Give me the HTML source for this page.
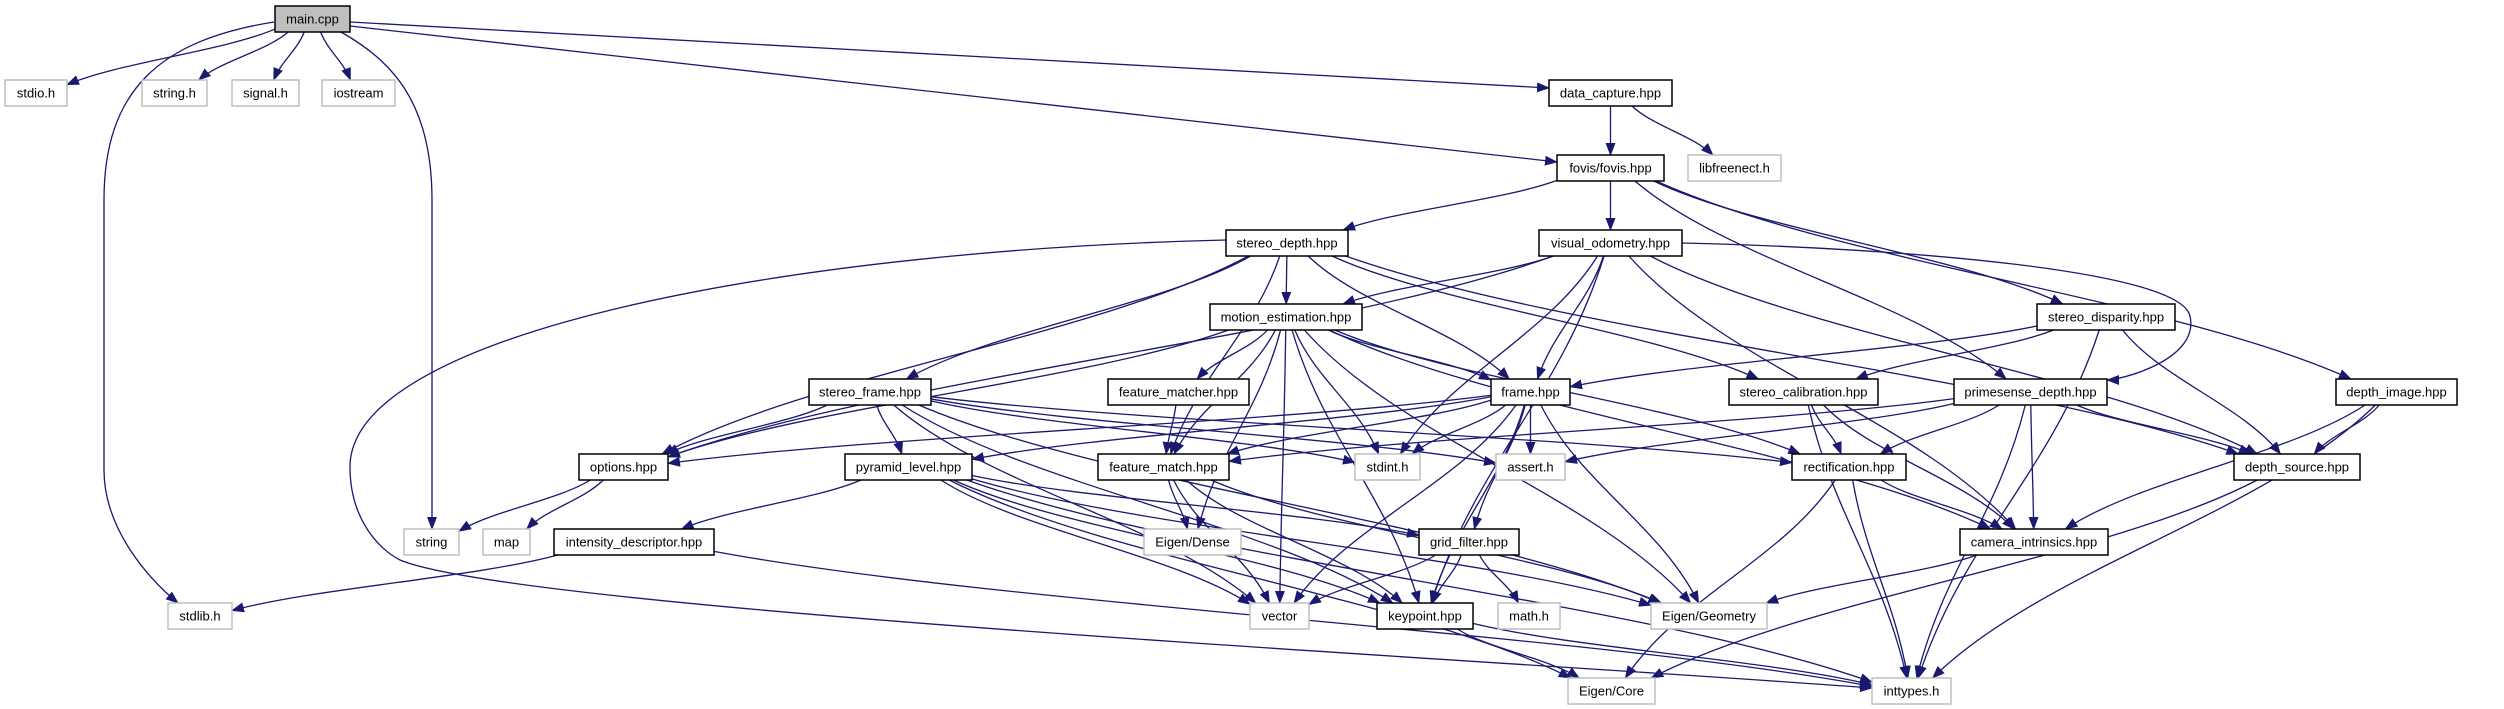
<!DOCTYPE html>
<html><head><meta charset="utf-8"><style>
html,body{margin:0;padding:0;background:#fff;}
svg{display:block;}
text{font-family:"Liberation Sans",sans-serif;font-size:13px;fill:#000;}
</style></head><body>
<svg id="g" width="2504" height="709" viewBox="0 0 2504 709" xmlns="http://www.w3.org/2000/svg">
<defs><marker id="a" markerUnits="userSpaceOnUse" markerWidth="13" markerHeight="10" refX="12" refY="5" orient="auto"><path d="M0,0 L13,5 L0,10 z" fill="#191970"/></marker></defs>
<g id="edges" fill="none" stroke="#191970" stroke-width="1.3"></g>
<g id="nodes">
<rect x="275" y="6" width="75" height="26" fill="#bfbfbf" stroke="#000" stroke-width="1.5"/><text x="312.5" y="23.5" text-anchor="middle">main.cpp</text>
<rect x="5" y="80" width="62" height="26" fill="#fff" stroke="#bfbfbf" stroke-width="1.5"/><text x="36" y="97.5" text-anchor="middle">stdio.h</text>
<rect x="142" y="80" width="65" height="26" fill="#fff" stroke="#bfbfbf" stroke-width="1.5"/><text x="174.5" y="97.5" text-anchor="middle">string.h</text>
<rect x="232" y="80" width="67" height="26" fill="#fff" stroke="#bfbfbf" stroke-width="1.5"/><text x="265.5" y="97.5" text-anchor="middle">signal.h</text>
<rect x="322" y="80" width="73" height="26" fill="#fff" stroke="#bfbfbf" stroke-width="1.5"/><text x="358.5" y="97.5" text-anchor="middle">iostream</text>
<rect x="1549" y="80" width="123" height="26" fill="#fff" stroke="#000" stroke-width="1.5"/><text x="1610.5" y="97.5" text-anchor="middle">data_capture.hpp</text>
<rect x="1557" y="155" width="107" height="26" fill="#fff" stroke="#000" stroke-width="1.5"/><text x="1610.5" y="172.5" text-anchor="middle">fovis/fovis.hpp</text>
<rect x="1688" y="155" width="93" height="26" fill="#fff" stroke="#bfbfbf" stroke-width="1.5"/><text x="1734.5" y="172.5" text-anchor="middle">libfreenect.h</text>
<rect x="1226" y="230" width="122" height="26" fill="#fff" stroke="#000" stroke-width="1.5"/><text x="1287" y="247.5" text-anchor="middle">stereo_depth.hpp</text>
<rect x="1539" y="230" width="143" height="26" fill="#fff" stroke="#000" stroke-width="1.5"/><text x="1610.5" y="247.5" text-anchor="middle">visual_odometry.hpp</text>
<rect x="1210" y="304" width="152" height="26" fill="#fff" stroke="#000" stroke-width="1.5"/><text x="1286" y="321.5" text-anchor="middle">motion_estimation.hpp</text>
<rect x="2037" y="304" width="138" height="26" fill="#fff" stroke="#000" stroke-width="1.5"/><text x="2106" y="321.5" text-anchor="middle">stereo_disparity.hpp</text>
<rect x="809" y="379" width="122" height="26" fill="#fff" stroke="#000" stroke-width="1.5"/><text x="870" y="396.5" text-anchor="middle">stereo_frame.hpp</text>
<rect x="1108" y="379" width="141" height="26" fill="#fff" stroke="#000" stroke-width="1.5"/><text x="1178.5" y="396.5" text-anchor="middle">feature_matcher.hpp</text>
<rect x="1491" y="379" width="79" height="26" fill="#fff" stroke="#000" stroke-width="1.5"/><text x="1530.5" y="396.5" text-anchor="middle">frame.hpp</text>
<rect x="1729" y="379" width="149" height="26" fill="#fff" stroke="#000" stroke-width="1.5"/><text x="1803.5" y="396.5" text-anchor="middle">stereo_calibration.hpp</text>
<rect x="1954" y="379" width="153" height="26" fill="#fff" stroke="#000" stroke-width="1.5"/><text x="2030.5" y="396.5" text-anchor="middle">primesense_depth.hpp</text>
<rect x="2336" y="379" width="121" height="26" fill="#fff" stroke="#000" stroke-width="1.5"/><text x="2396.5" y="396.5" text-anchor="middle">depth_image.hpp</text>
<rect x="579" y="454" width="89" height="26" fill="#fff" stroke="#000" stroke-width="1.5"/><text x="623.5" y="471.5" text-anchor="middle">options.hpp</text>
<rect x="845" y="454" width="127" height="26" fill="#fff" stroke="#000" stroke-width="1.5"/><text x="908.5" y="471.5" text-anchor="middle">pyramid_level.hpp</text>
<rect x="1098" y="454" width="131" height="26" fill="#fff" stroke="#000" stroke-width="1.5"/><text x="1163.5" y="471.5" text-anchor="middle">feature_match.hpp</text>
<rect x="1355" y="454" width="65" height="26" fill="#fff" stroke="#bfbfbf" stroke-width="1.5"/><text x="1387.5" y="471.5" text-anchor="middle">stdint.h</text>
<rect x="1496" y="454" width="69" height="26" fill="#fff" stroke="#bfbfbf" stroke-width="1.5"/><text x="1530.5" y="471.5" text-anchor="middle">assert.h</text>
<rect x="1792" y="454" width="114" height="26" fill="#fff" stroke="#000" stroke-width="1.5"/><text x="1849" y="471.5" text-anchor="middle">rectification.hpp</text>
<rect x="2234" y="454" width="126" height="26" fill="#fff" stroke="#000" stroke-width="1.5"/><text x="2297" y="471.5" text-anchor="middle">depth_source.hpp</text>
<rect x="404" y="529" width="55" height="26" fill="#fff" stroke="#bfbfbf" stroke-width="1.5"/><text x="431.5" y="546.5" text-anchor="middle">string</text>
<rect x="483" y="529" width="47" height="26" fill="#fff" stroke="#bfbfbf" stroke-width="1.5"/><text x="506.5" y="546.5" text-anchor="middle">map</text>
<rect x="554" y="529" width="160" height="26" fill="#fff" stroke="#000" stroke-width="1.5"/><text x="634" y="546.5" text-anchor="middle">intensity_descriptor.hpp</text>
<rect x="1144" y="529" width="97" height="26" fill="#fff" stroke="#bfbfbf" stroke-width="1.5"/><text x="1192.5" y="546.5" text-anchor="middle">Eigen/Dense</text>
<rect x="1419" y="529" width="100" height="26" fill="#fff" stroke="#000" stroke-width="1.5"/><text x="1469" y="546.5" text-anchor="middle">grid_filter.hpp</text>
<rect x="1960" y="529" width="148" height="26" fill="#fff" stroke="#000" stroke-width="1.5"/><text x="2034" y="546.5" text-anchor="middle">camera_intrinsics.hpp</text>
<rect x="168" y="603" width="64" height="26" fill="#fff" stroke="#bfbfbf" stroke-width="1.5"/><text x="200" y="620.5" text-anchor="middle">stdlib.h</text>
<rect x="1250" y="603" width="59" height="26" fill="#fff" stroke="#bfbfbf" stroke-width="1.5"/><text x="1279.5" y="620.5" text-anchor="middle">vector</text>
<rect x="1377" y="603" width="96" height="26" fill="#fff" stroke="#000" stroke-width="1.5"/><text x="1425" y="620.5" text-anchor="middle">keypoint.hpp</text>
<rect x="1498" y="603" width="62" height="26" fill="#fff" stroke="#bfbfbf" stroke-width="1.5"/><text x="1529" y="620.5" text-anchor="middle">math.h</text>
<rect x="1651" y="603" width="116" height="26" fill="#fff" stroke="#bfbfbf" stroke-width="1.5"/><text x="1709" y="620.5" text-anchor="middle">Eigen/Geometry</text>
<rect x="1568" y="678" width="87" height="26" fill="#fff" stroke="#bfbfbf" stroke-width="1.5"/><text x="1611.5" y="695.5" text-anchor="middle">Eigen/Core</text>
<rect x="1872" y="678" width="79" height="26" fill="#fff" stroke="#bfbfbf" stroke-width="1.5"/><text x="1911.5" y="695.5" text-anchor="middle">inttypes.h</text>
</g>
</svg>
<script>
var N={main:[275,350,6],stdio:[5,67,80],strh:[142,207,80],sig:[232,299,80],ios:[322,395,80],dc:[1549,1672,80],fovis:[1557,1664,155],lfn:[1688,1781,155],sd:[1226,1348,230],vo:[1539,1682,230],me:[1210,1362,304],sdisp:[2037,2175,304],sf:[809,931,379],fmr:[1108,1249,379],fr:[1491,1570,379],sc:[1729,1878,379],pd:[1954,2107,379],di:[2336,2457,379],opt:[579,668,454],pl:[845,972,454],fm:[1098,1229,454],sti:[1355,1420,454],as:[1496,1565,454],rect:[1792,1906,454],ds:[2234,2360,454],str:[404,459,529],map:[483,530,529],id:[554,714,529],ed:[1144,1241,529],gf:[1419,1519,529],ci:[1960,2108,529],stdlib:[168,232,603],vec:[1250,1309,603],kp:[1377,1473,603],math:[1498,1560,603],eg:[1651,1767,603],ec:[1568,1655,678],it:[1872,1951,678]};
var E=[["main","stdio"],["main","strh"],["main","sig"],["main","ios"],["dc","fovis"],["dc","lfn"],
["fovis","sd"],["fovis","vo"],["fovis","sdisp"],["fovis","pd"],["fovis","di"],
["sd","me"],["sd","opt"],["sd","sf"],["sd","fr"],["sd","fm"],["sd","sc"],["sd","ds"],
["vo","me"],["vo","fr"],["vo","sti"],["vo","kp"],["vo","ci"],["vo","opt"],["vo","ds"],
["sdisp","fr"],["sdisp","sc"],["sdisp","ds"],["sdisp","it"],
["pd","fm"],["pd","as"],["pd","rect"],["pd","ci"],["pd","it"],["pd","ds"],
["di","ds"],["di","ci"],["di","it"],["ds","ec"],
["me","opt"],["me","fmr"],["me","fm"],["me","fr"],["me","sti"],["me","ed"],["me","vec"],["me","kp"],["me","eg"],["me","rect"],["me","ci"],
["sf","opt"],["sf","pl"],["sf","sti"],["sf","as"],["sf","rect"],["sf","vec"],["sf","kp"],["sf","eg"],
["fmr","fm"],
["fr","opt"],["fr","pl"],["fr","fm"],["fr","sti"],["fr","as"],["fr","gf"],["fr","vec"],["fr","kp"],["fr","eg"],
["sc","rect"],["sc","ci"],["sc","it"],
["opt","str"],["opt","map"],
["pl","id"],["pl","gf"],["pl","vec"],["pl","kp"],["pl","eg"],["pl","ec"],["pl","it"],
["fm","ed"],["fm","vec"],["fm","kp"],["fm","eg"],
["rect","ci"],["rect","ec"],["rect","it"],
["id","stdlib"],["id","it"],
["gf","vec"],["gf","kp"],["gf","math"],
["ci","eg"],["kp","ec"],["kp","it"]];
var H=26,g=document.getElementById("edges"),ns="http://www.w3.org/2000/svg";
function add(d){var p=document.createElementNS(ns,"path");p.setAttribute("d",d);p.setAttribute("marker-end","url(#a)");g.appendChild(p);}
function bnd(n,tx,ty){var b=N[n],cx=(b[0]+b[1])/2,cy=b[2]+H/2,dx=tx-cx,dy=ty-cy,hw=(b[1]-b[0])/2,hh=H/2;
var s=Math.min(dx?hw/Math.abs(dx):1e9,dy?hh/Math.abs(dy):1e9);return[cx+dx*s,cy+dy*s];}
E.forEach(function(e){var a=N[e[0]],b=N[e[1]];
var ac=[(a[0]+a[1])/2,a[2]+H/2],bc=[(b[0]+b[1])/2,b[2]+H/2];
var s=bnd(e[0],bc[0],bc[1]),t=bnd(e[1],ac[0],ac[1]);
var dx=t[0]-s[0],dy=t[1]-s[1];
add("M"+s[0]+","+s[1]+" C"+(s[0]+dx*0.25)+","+(s[1]+dy*0.4)+" "+(t[0]-dx*0.25)+","+(t[1]-dy*0.4)+" "+t[0]+","+t[1]);});
add("M274,22 C160,40 104,90 104,200 L104,470 C104,530 150,580 178,603");
add("M341,32 C390,60 432,100 432,200 L432,529");
add("M350,22 L1549,88");
add("M350,26 L1557,162");
add("M1226,240 C800,250 350,330 350,467 C350,520 380,550 400,560 C520,610 1500,660 1872,688");
add("M1682,243 C1900,248 2180,270 2190,316 C2200,360 2120,380 2107,380");
</script>
</body></html>
